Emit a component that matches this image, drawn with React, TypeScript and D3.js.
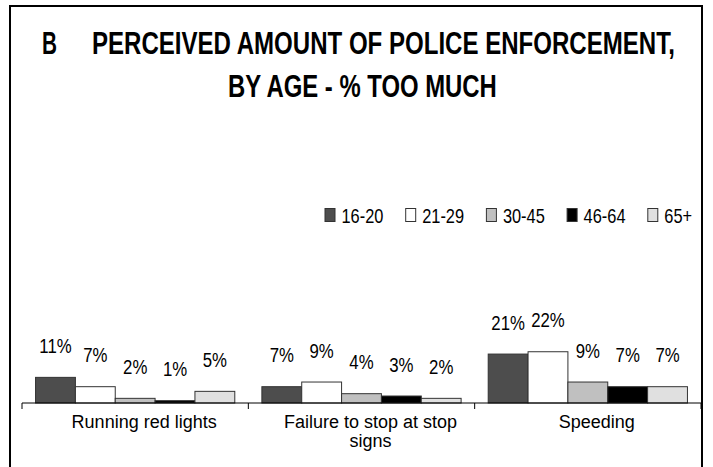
import React, { useEffect, useRef } from 'react';
import * as d3 from 'd3';

const categories = ['Running red lights', 'Failure to stop at stop signs', 'Speeding'];
const ageGroups = ['16-20', '21-29', '30-45', '46-64', '65+'];
const values16to20 = [11, 7, 21];
const values21to29 = [7, 9, 22];
const values30to45 = [2, 4, 9];
const values46to64 = [1, 3, 7];
const values65plus = [5, 2, 7];
const seriesValues = [values16to20, values21to29, values30to45, values46to64, values65plus];
const colors = ['#4d4d4d', '#ffffff', '#c0c0c0', '#000000', '#e0e0e0'];

const W = 713;
const H = 467;
const SANS = "'Liberation Sans', Arial, sans-serif";

type G = d3.Selection<any, unknown, null, undefined>;

// no narrow font installed, so squeeze Liberation Sans horizontally
const narrowText = (
  parent: G, x: number, y: number, txt: string, size: number,
  anchor = 'start', weight = 'normal', sx = 0.82, fitWidth?: number
) => {
  const t = parent.append('text')
    .attr('text-anchor', anchor)
    .attr('font-family', SANS).attr('font-size', size).attr('font-weight', weight)
    .attr('fill', '#000')
    .text(txt);
  let s = sx;
  if (fitWidth) {
    const len = (t.node() as SVGTextElement).getComputedTextLength();
    if (len > 0) s = fitWidth / len;
  }
  t.attr('transform', `translate(${x},${y}) scale(${s},1)`);
  return t;
};

const App: React.FC = () => {
  const svgRef = useRef<SVGSVGElement>(null);

  useEffect(() => {
    if (!svgRef.current) return;
    const svg = d3.select(svgRef.current);
    svg.selectAll('*').remove();

    // frame
    svg.append('rect')
      .attr('x', 10).attr('y', 6)
      .attr('width', 692).attr('height', 480)
      .attr('fill', '#fff').attr('stroke', '#000').attr('stroke-width', 2);

    // title
    narrowText(svg, 42, 54, 'B', 32, 'start', 'bold', 1, 15);
    narrowText(svg, 92, 54, 'PERCEIVED AMOUNT OF POLICE ENFORCEMENT,', 32, 'start', 'bold', 0.8, 583);
    narrowText(svg, 228, 97, 'BY AGE - % TOO MUCH', 32, 'start', 'bold', 0.8, 269);

    const baseY = 403;
    const x0 = d3.scaleBand().domain(categories).range([22, 701]).paddingInner(0).paddingOuter(0);
    const x1 = d3.scaleBand().domain(ageGroups).range([0, x0.bandwidth()]).paddingInner(0).paddingOuter(0.34);
    const y = d3.scaleLinear().domain([0, 100]).range([baseY, baseY - 233]);

    // legend
    ageGroups.forEach((g, i) => {
      const lx = 325 + i * 80.7;
      svg.append('rect')
        .attr('x', lx).attr('y', 208.5).attr('width', 10).attr('height', 13)
        .attr('fill', colors[i]).attr('stroke', '#333').attr('stroke-width', 1);
      narrowText(svg, lx + 16.5, 222.5, g, 20);
    });

    // bars
    categories.forEach((c, ci) => {
      const gx = x0(c) as number;
      ageGroups.forEach((a, ai) => {
        const v = seriesValues[ai][ci];
        const bx = gx + (x1(a) as number);
        svg.append('rect')
          .attr('x', bx).attr('y', y(v))
          .attr('width', x1.bandwidth()).attr('height', baseY - y(v))
          .attr('fill', colors[ai]).attr('stroke', '#333').attr('stroke-width', 1);
        narrowText(svg, bx + x1.bandwidth() / 2, y(v) - 24.5, `${v}%`, 20.5, 'middle');
      });
    });

    // axis
    svg.append('line')
      .attr('x1', 22).attr('x2', 701).attr('y1', baseY).attr('y2', baseY)
      .attr('stroke', '#000').attr('stroke-width', 1);
    const tickXs = [...categories.map(c => x0(c) as number), 701];
    tickXs.forEach(tx => {
      svg.append('line')
        .attr('x1', tx).attr('x2', tx).attr('y1', baseY).attr('y2', baseY + 6)
        .attr('stroke', '#000').attr('stroke-width', 1);
    });

    // category labels
    const catLines: Record<string, string[]> = {
      'Running red lights': ['Running red lights'],
      'Failure to stop at stop signs': ['Failure to stop at stop', 'signs'],
      'Speeding': ['Speeding'],
    };
    categories.forEach(c => {
      const cx = (x0(c) as number) + x0.bandwidth() / 2 + 9;
      catLines[c].forEach((line, li) => {
        svg.append('text')
          .attr('x', cx).attr('y', 428 + li * 19)
          .attr('text-anchor', 'middle')
          .attr('font-family', SANS).attr('font-size', 18)
          .text(line);
      });
    });
  }, []);

  return (
    <svg
      ref={svgRef}
      width={W}
      height={H}
      viewBox={`0 0 ${W} ${H}`}
      style={{ position: 'absolute', left: 0, top: 0, background: '#fff' }}
    />
  );
};

export default App;
